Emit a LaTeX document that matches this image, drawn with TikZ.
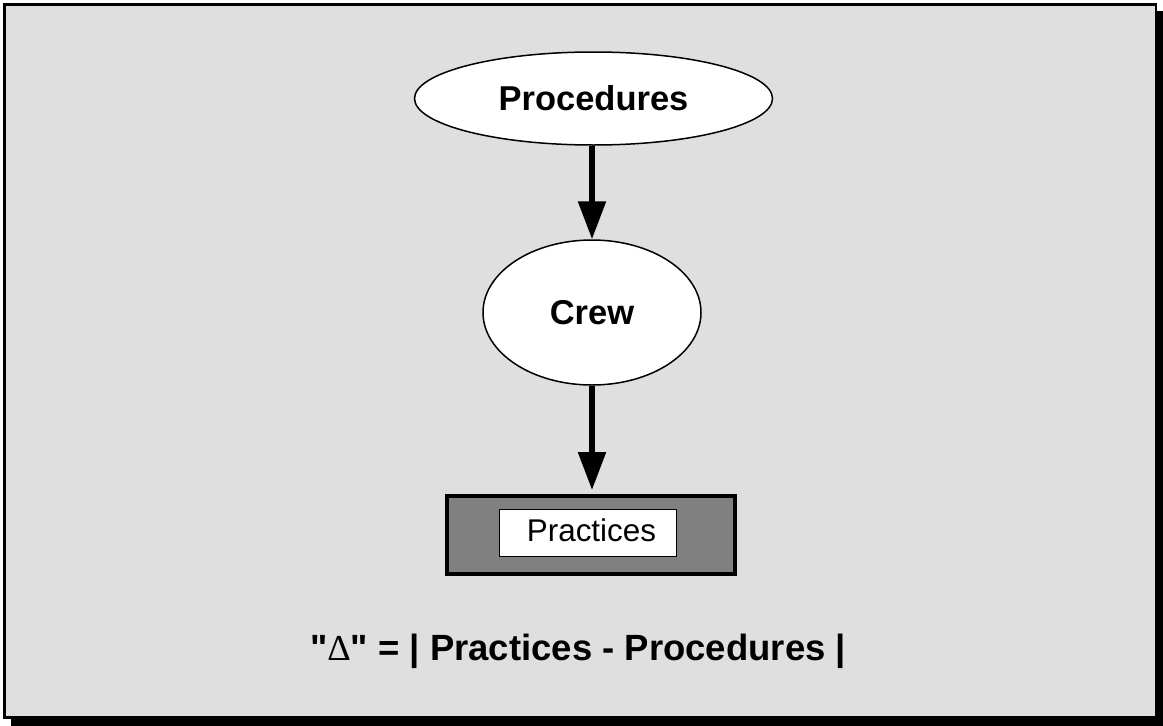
\documentclass[tikz,border=0pt]{standalone}
\usepackage{fontspec}
\setmainfont{Liberation Sans}
\newfontfamily\deltafont{Liberation Serif}
\usetikzlibrary{shapes.geometric,arrows.meta}
\definecolor{panel}{gray}{0.875}
\definecolor{boxgray}{gray}{0.5}
\begin{document}
\begin{tikzpicture}[x=1pt,y=-1pt,
  oval/.style={ellipse, draw=black, line width=1.5pt, fill=white, inner sep=0pt,
    font=\fontsize{34.5}{40}\selectfont\bfseries, text height=24.7pt, text depth=0pt},
  flow/.style={line width=5.5pt, -{Triangle[length=38pt,width=27pt]}},
]
\useasboundingbox (0,0) rectangle (1163,726);
% drop shadow and panel
\fill[black] (11,11) rectangle (1163,726);
\filldraw[fill=panel, draw=black, line width=2.5pt] (4.25,4.25) rectangle (1155.75,717.25);

% nodes
\node[oval, minimum width=358pt, minimum height=93pt] (proc) at (593.5,98.5) {Procedures};
\node[oval, minimum width=218pt, minimum height=145pt] (crew) at (592,312.5) {Crew};
\node[draw=black, line width=4pt, fill=boxgray, minimum width=288pt, minimum height=78pt,
  inner sep=0pt] (outer) at (591,535) {};
\node[draw=black, line width=1.2pt, fill=white, minimum width=176.8pt, minimum height=46.8pt,
  inner sep=0pt, font=\fontsize{31.4}{36}\selectfont, text height=22.5pt, text depth=6.5pt]
  (inner) at (588,533) {\hspace*{7pt}Practices};

% connectors
\draw[flow] (crew.north |- proc.south) -- (crew.north);
\draw[flow, shorten >=4pt] (crew.south) -- (crew.south |- outer.north);

% formula
\node[anchor=base, inner sep=0pt, font=\fontsize{36.5}{42}\selectfont\bfseries] (formula) at (578,660)
  {\textquotedbl{\deltafont\mdseries Δ}\textquotedbl{} = | Practices - Procedures |};
\end{tikzpicture}
\end{document}
